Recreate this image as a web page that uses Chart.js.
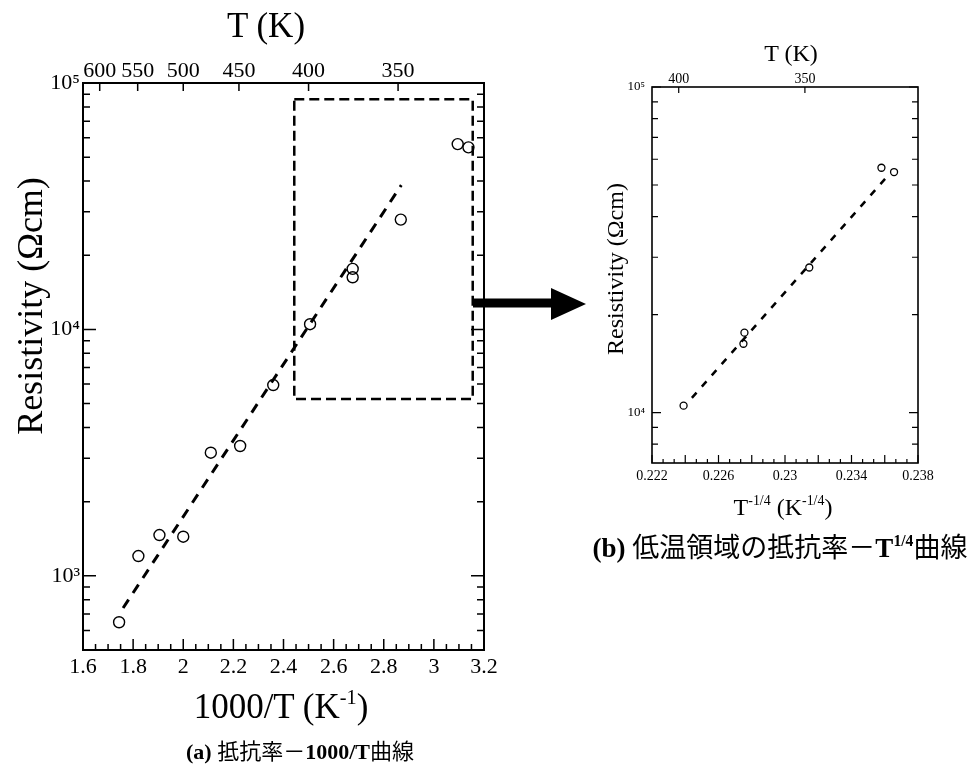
<!DOCTYPE html>
<html>
<head>
<meta charset="utf-8">
<script src="https://cdn.jsdelivr.net/npm/chart.js@4.4.1/dist/chart.umd.min.js"></script>
<style>
  html, body { margin: 0; padding: 0; background: #fff; }
  body { width: 975px; height: 776px; position: relative; overflow: hidden;
         font-family: 'Liberation Serif', 'DejaVu Serif', serif; color: #000; }
  canvas { position: absolute; }
  .lbl { position: absolute; white-space: nowrap; line-height: 1; transform: translate(-50%, -50%); }
  .rot { transform: translate(-50%, -50%) rotate(-90deg); }
  .lbl sup { font-size: 0.58em; vertical-align: 0; position: relative; top: -0.7em; }
  .cap { font-family: 'Liberation Serif', 'Noto Sans CJK JP', serif; }
</style>
</head>
<body>
<canvas id="chartA" width="500" height="700" style="left:0;top:0"></canvas>
<canvas id="chartB" width="400" height="500" style="left:560px;top:0"></canvas>

<svg width="975" height="776" style="position:absolute;left:0;top:0;pointer-events:none">
  <rect x="473" y="298.5" width="80" height="9" fill="#000"/>
  <polygon points="551,288 586,304 551,320" fill="#000"/>
</svg>

<div class="lbl" style="left:266px;top:25px;font-size:35px">T (K)</div>
<div class="lbl rot" style="left:30px;top:306px;font-size:36px">Resistivity (Ωcm)</div>
<div class="lbl" style="left:281px;top:706px;font-size:35px">1000/T (K<sup>-1</sup>)</div>
<div class="lbl cap" style="left:300px;top:752px;font-size:22px"><b>(a)</b> 抵抗率－<b>1000/T</b>曲線</div>

<div class="lbl" style="left:791px;top:53px;font-size:24px">T (K)</div>
<div class="lbl rot" style="left:615px;top:269px;font-size:24px">Resistivity (Ωcm)</div>
<div class="lbl" style="left:783px;top:507px;font-size:24px">T<sup>-1/4</sup> (K<sup>-1/4</sup>)</div>
<div class="lbl cap" style="left:780px;top:548px;font-size:27px"><b>(b)</b> 低温領域の抵抗率－<b>T<sup>1/4</sup></b>曲線</div>

<script>
// ---- measured resistivity ----
// points above 400 K (shown only in panel a)
const rhoHigh = [648, 1203, 1464, 1441, 3160, 3364, 5945];
// points below 400 K (shown in both panels)
const rhoLow = [10500, 17600, 16270, 27900, 56500, 54800];
// panel (a): 1000/T (K^-1) for every point
const invT = [1.744, 1.821, 1.905, 2.000, 2.110, 2.227, 2.359, 2.506, 2.676, 2.676, 2.868, 3.095, 3.138];
// panel (b): T^-1/4 (K^-1/4) for the low-temperature points
const tQuarter = [0.2239, 0.22756, 0.2275, 0.23146, 0.2358, 0.23656];

// fitted lines (end points)
const fitAX = [1.76, 2.87];
const fitAY = [740, 38500];
const fitBX = [0.2244, 0.2361];
const fitBY = [11100, 52800];

// region of panel (a) enlarged in panel (b)
const boxX = [2.443, 3.155];
const boxY = [5220, 86000];

// tick labels
const xTicksA = [1.6, 1.8, 2.0, 2.2, 2.4, 2.6, 2.8, 3.0, 3.2];
const tempTicksA = [600, 550, 500, 450, 400, 350];
const yTicksA = [1e3, 1e4, 1e5];
const xTicksB = [0.222, 0.226, 0.230, 0.234, 0.238];
const tempTicksB = [400, 350];
const yTicksB = [1e4, 1e5];

// ---- helpers ----
const serif = "'Liberation Serif', 'DejaVu Serif', serif";
const SUP = { '-': '⁻', '0': '⁰', '1': '¹', '2': '²', '3': '³', '4': '⁴', '5': '⁵' };
const powerLabel = v => '10' + String(Math.round(Math.log10(v))).split('').map(c => SUP[c]).join('');

function range(a, b, step) {
  const out = [];
  const n = Math.round((b - a) / step);
  for (let i = 0; i <= n; i++) out.push(+(a + i * step).toFixed(6));
  return out;
}
function logMinors(decades) {
  const out = [];
  for (const d of decades) for (let m = 2; m <= 9; m++) out.push(m * d);
  return out;
}

// fixed axis thickness, and no extra room reserved for edge labels
function fixSize(prop, px) {
  return s => {
    s[prop] = px;
    s.paddingLeft = s.paddingRight = s.paddingTop = s.paddingBottom = 0;
  };
}

// frame around the plot area with inward tick marks
const frameTicks = {
  id: 'frameTicks',
  afterDatasetsDraw(chart, args, o) {
    const { ctx, chartArea: a, scales } = chart;
    ctx.save();
    ctx.strokeStyle = '#000';
    ctx.lineWidth = o.tickWidth;
    ctx.beginPath();
    for (const g of o.bottom) for (const v of g.values) {
      const px = scales.x.getPixelForValue(v);
      ctx.moveTo(px, a.bottom); ctx.lineTo(px, a.bottom - g.len);
    }
    for (const g of o.top) for (const v of g.values) {
      const px = scales.x2.getPixelForValue(v);
      ctx.moveTo(px, a.top); ctx.lineTo(px, a.top + g.len);
    }
    for (const g of o.sides) for (const v of g.values) {
      const py = scales.y.getPixelForValue(v);
      ctx.moveTo(a.left, py); ctx.lineTo(a.left + g.len, py);
      ctx.moveTo(a.right, py); ctx.lineTo(a.right - g.len, py);
    }
    ctx.stroke();
    ctx.lineWidth = o.frameWidth;
    ctx.strokeRect(a.left, a.top, a.right - a.left, a.bottom - a.top);
    ctx.restore();
  }
};

const pts = (xs, ys) => xs.map((x, i) => ({ x, y: ys[i] }));
const noGrid = { display: false, drawTicks: false };
const noBorder = { display: false };

// ---- panel (a): resistivity vs 1000/T ----
const rhoA = rhoHigh.concat(rhoLow);
new Chart(document.getElementById('chartA'), {
  type: 'scatter',
  data: {
    datasets: [
      { label: 'fit', data: pts(fitAX, fitAY), showLine: true, borderColor: '#000',
        borderWidth: 3, borderDash: [10, 8], pointRadius: 0, fill: false },
      { label: 'region', data: pts([boxX[0], boxX[1], boxX[1], boxX[0], boxX[0]],
                                   [boxY[1], boxY[1], boxY[0], boxY[0], boxY[1]]),
        showLine: true, borderColor: '#000', borderWidth: 2.5, borderDash: [10, 5],
        pointRadius: 0, fill: false },
      { label: 'resistivity', data: pts(invT, rhoA), showLine: false, pointRadius: 5.5,
        pointBorderWidth: 1.4, pointBorderColor: '#000', pointBackgroundColor: 'rgba(0,0,0,0)' }
    ]
  },
  options: {
    responsive: false, animation: false, devicePixelRatio: 1,
    layout: { padding: { left: 0, right: 16, top: 0, bottom: 0 } },
    plugins: {
      legend: { display: false }, tooltip: { enabled: false },
      frameTicks: {
        frameWidth: 2, tickWidth: 1.5,
        bottom: [{ values: range(1.6, 3.2, 0.05), len: 6 }, { values: xTicksA, len: 11 }],
        top: [{ values: tempTicksA.map(T => 1000 / T), len: 8 }],
        sides: [{ values: logMinors([100, 1000, 10000]).filter(v => v > 500), len: 7 },
                { values: yTicksA, len: 13 }]
      }
    },
    scales: {
      x: {
        type: 'linear', position: 'bottom', min: 1.6, max: 3.2,
        grid: noGrid, border: noBorder,
        ticks: { font: { family: serif, size: 22, lineHeight: 1 }, color: '#000', padding: 6,
                 maxRotation: 0, autoSkip: false, callback: v => String(+v.toFixed(1)) },
        afterBuildTicks: s => { s.ticks = xTicksA.map(value => ({ value })); },
        afterFit: fixSize('height', 50)
      },
      x2: {
        type: 'linear', position: 'top', min: 1.6, max: 3.2,
        grid: noGrid, border: noBorder,
        ticks: { font: { family: serif, size: 22, lineHeight: 1 }, color: '#000', padding: 1,
                 maxRotation: 0, autoSkip: false, callback: v => String(Math.round(1000 / v)) },
        afterBuildTicks: s => { s.ticks = tempTicksA.map(T => ({ value: 1000 / T })); },
        afterFit: fixSize('height', 83)
      },
      y: {
        type: 'logarithmic', position: 'left', min: 500, max: 1e5,
        grid: noGrid, border: noBorder,
        ticks: { font: { family: serif, size: 22, lineHeight: 1 }, color: '#000', padding: 3,
                 autoSkip: false, callback: v => powerLabel(v) },
        afterBuildTicks: s => { s.ticks = yTicksA.map(value => ({ value })); },
        afterFit: fixSize('width', 83)
      }
    }
  },
  plugins: [frameTicks]
});

// ---- panel (b): resistivity vs T^-1/4 at low temperature ----
new Chart(document.getElementById('chartB'), {
  type: 'scatter',
  data: {
    datasets: [
      { label: 'fit', data: pts(fitBX, fitBY), showLine: true, borderColor: '#000',
        borderWidth: 2.5, borderDash: [7, 8], pointRadius: 0, fill: false },
      { label: 'resistivity', data: pts(tQuarter, rhoLow), showLine: false, pointRadius: 3.5,
        pointBorderWidth: 1.3, pointBorderColor: '#000', pointBackgroundColor: 'rgba(0,0,0,0)' }
    ]
  },
  options: {
    responsive: false, animation: false, devicePixelRatio: 1,
    layout: { padding: { left: 0, right: 42, top: 0, bottom: 0 } },
    plugins: {
      legend: { display: false }, tooltip: { enabled: false },
      frameTicks: {
        frameWidth: 1.6, tickWidth: 1.2,
        bottom: [{ values: range(0.222, 0.238, 0.002 / 3), len: 4 }, { values: range(0.222, 0.238, 0.002), len: 8 }],
        top: [{ values: tempTicksB.map(T => Math.pow(T, -0.25)), len: 6 }],
        sides: [{ values: logMinors([1000, 10000]).filter(v => v > 7000), len: 6 },
                { values: yTicksB, len: 9 }]
      }
    },
    scales: {
      x: {
        type: 'linear', position: 'bottom', min: 0.222, max: 0.238,
        grid: noGrid, border: noBorder,
        ticks: { font: { family: serif, size: 14, lineHeight: 1 }, color: '#000', padding: 6,
                 maxRotation: 0, autoSkip: false, callback: v => String(+v.toFixed(3)) },
        afterBuildTicks: s => { s.ticks = xTicksB.map(value => ({ value })); },
        afterFit: fixSize('height', 500 - 463)
      },
      x2: {
        type: 'linear', position: 'top', min: 0.222, max: 0.238,
        grid: noGrid, border: noBorder,
        ticks: { font: { family: serif, size: 14, lineHeight: 1 }, color: '#000', padding: 1,
                 maxRotation: 0, autoSkip: false, callback: v => String(Math.round(Math.pow(v, -4))) },
        afterBuildTicks: s => { s.ticks = tempTicksB.map(T => ({ value: Math.pow(T, -0.25) })); },
        afterFit: fixSize('height', 87)
      },
      y: {
        type: 'logarithmic', position: 'left', min: 7000, max: 1e5,
        grid: noGrid, border: noBorder,
        ticks: { font: { family: serif, size: 13, lineHeight: 1 }, color: '#000', padding: 7,
                 autoSkip: false, callback: v => powerLabel(v) },
        afterBuildTicks: s => { s.ticks = yTicksB.map(value => ({ value })); },
        afterFit: fixSize('width', 92)
      }
    }
  },
  plugins: [frameTicks]
});
</script>
</body>
</html>
